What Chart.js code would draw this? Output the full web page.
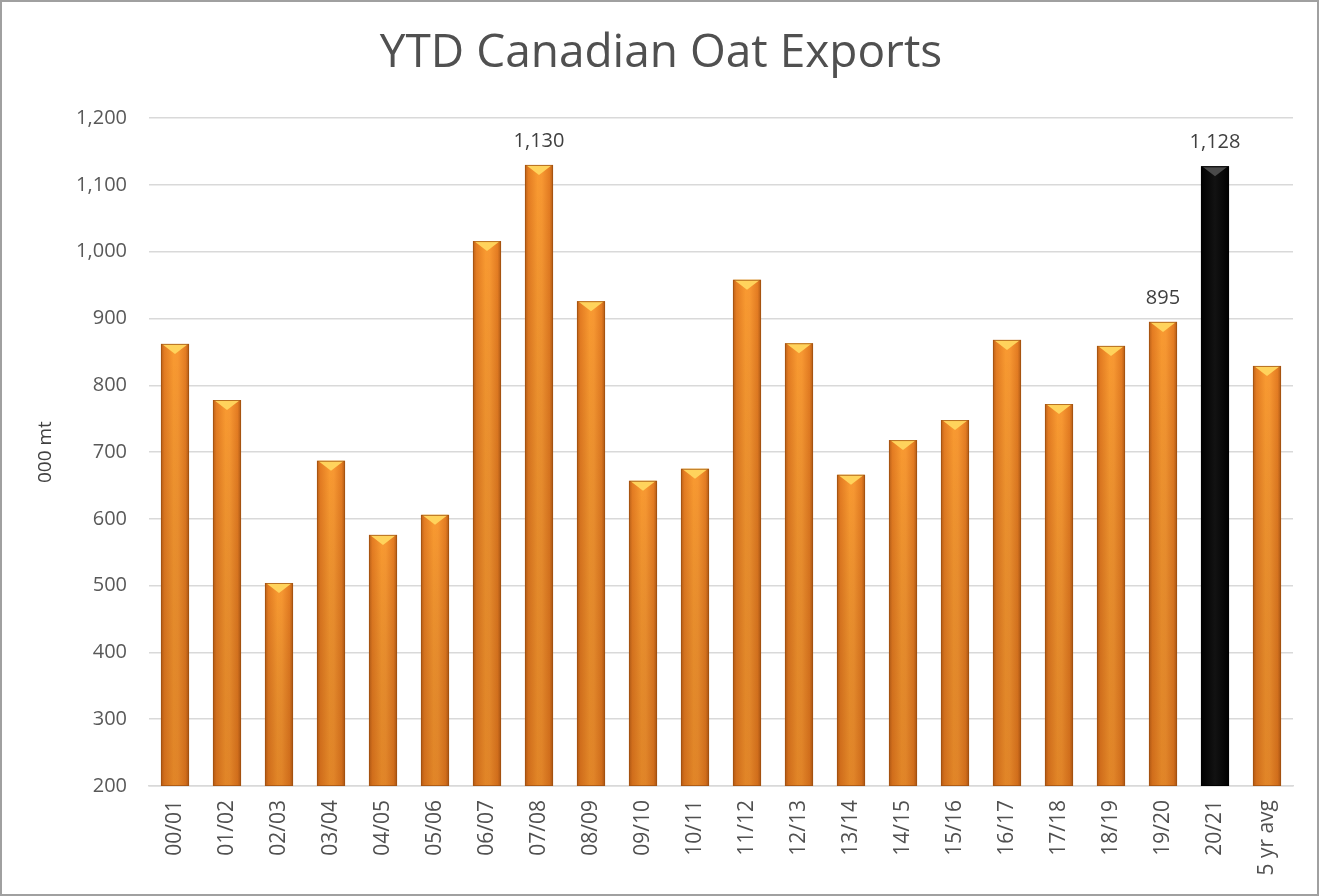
<!DOCTYPE html>
<html>
<head>
<meta charset="utf-8">
<script src="https://cdn.jsdelivr.net/npm/chart.js@4.4.1/dist/chart.umd.min.js"></script>
<style>
html,body{margin:0;padding:0;background:#fff;overflow:hidden;}
#wrap{position:absolute;left:0;top:0;width:1319px;height:896px;}
#frame{position:absolute;left:0;top:0;width:1319px;height:896px;box-sizing:border-box;border:2px solid #a0a0a0;pointer-events:none;}
</style>
</head>
<body>
<div id="wrap"><canvas id="c"></canvas></div>
<div id="frame"></div>
<script>
const categories = ["00/01","01/02","02/03","03/04","04/05","05/06","06/07","07/08","08/09","09/10","10/11","11/12","12/13","13/14","14/15","15/16","16/17","17/18","18/19","19/20","20/21","5 yr avg"];
const exportsValues = [862, 778, 504, 687, 576, 606, 1016, 1130, 926, 657, 675, 958, 863, 666, 718, 748, 868, 772, 859, 895, 1128, 829];
const labelledValues = ["", "", "", "", "", "", "", "1,130", "", "", "", "", "", "", "", "", "", "", "", "895", "1,128", ""];
const highlightCategory = "20/21";
const yTicks = [200, 300, 400, 500, 600, 700, 800, 900, 1000, 1100, 1200];

const FONT = '"Open Sans", "Liberation Sans", sans-serif';

const barStyle = {
  id: 'barStyle',
  afterDatasetsDraw(chart) {
    const ctx = chart.ctx;
    const area = chart.chartArea;
    const meta = chart.getDatasetMeta(0);
    meta.data.forEach((bar, i) => {
      const p = bar.getProps(['x','y','base','width'], true);
      const l = p.x - p.width/2, r = p.x + p.width/2, t = p.y, b = Math.min(p.base, area.bottom);
      const dark = categories[i] === highlightCategory;
      const g = ctx.createLinearGradient(l, 0, r, 0);
      if (dark) {
        g.addColorStop(0, '#000'); g.addColorStop(0.5, '#121212'); g.addColorStop(1, '#000');
      } else {
        g.addColorStop(0, '#b95f18'); g.addColorStop(0.12, '#e47c22'); g.addColorStop(0.45, '#f99a31');
        g.addColorStop(0.6, '#f89832'); g.addColorStop(0.88, '#e47c22'); g.addColorStop(1, '#b05a16');
      }
      ctx.save();
      ctx.fillStyle = g;
      ctx.fillRect(l, t, r - l, b - t);
      const gv = ctx.createLinearGradient(0, t, 0, b);
      gv.addColorStop(0, 'rgba(0,0,0,0)');
      gv.addColorStop(1, dark ? 'rgba(0,0,0,0)' : 'rgba(130,50,0,0.2)');
      ctx.fillStyle = gv;
      ctx.fillRect(l, t, r - l, b - t);
      ctx.beginPath();
      ctx.moveTo(l + 1, t); ctx.lineTo(r - 1, t); ctx.lineTo(p.x, t + 10); ctx.closePath();
      ctx.fillStyle = dark ? '#4a4a4a' : '#ffd35c';
      ctx.fill();
      ctx.strokeStyle = dark ? '#000' : 'rgba(160,80,15,0.75)';
      ctx.lineWidth = 1;
      ctx.strokeRect(l + 0.5, t + 0.5, r - l - 1, b - t - 1);
      ctx.restore();
      if (labelledValues[i]) {
        ctx.save();
        ctx.font = '20px ' + FONT;
        ctx.fillStyle = '#404040';
        ctx.textAlign = 'center';
        ctx.textBaseline = 'alphabetic';
        ctx.fillText(labelledValues[i], p.x, t - 18);
        ctx.restore();
      }
    });
  }
};

new Chart(document.getElementById('c'), {
  type: 'bar',
  data: {
    labels: categories,
    datasets: [{
      data: exportsValues,
      backgroundColor: 'rgba(0,0,0,0)',
      borderWidth: 0,
      barPercentage: 0.54,
      categoryPercentage: 1.0
    }]
  },
  options: {
    responsive: true,
    maintainAspectRatio: false,
    animation: false,
    devicePixelRatio: 1,
    layout: { padding: { left: 29, right: 26, top: 0, bottom: 0 } },
    plugins: {
      legend: { display: false },
      tooltip: { enabled: false },
      title: {
        display: true,
        text: 'YTD Canadian Oat Exports',
        color: '#505050',
        font: { family: FONT, size: 46, weight: 'normal', lineHeight: 1.2 },
        padding: { top: 26, bottom: 37 }
      }
    },
    scales: {
      x: {
        afterFit(axis) { axis.height = 110; },
        grid: { display: false, drawTicks: false },
        border: { display: true, color: '#d9d9d9', width: 1.5 },
        ticks: {
          color: '#505050',
          font: { family: FONT, size: 21 },
          maxRotation: 90, minRotation: 90,
          padding: 14,
          autoSkip: false
        }
      },
      y: {
        min: 200, max: 1200,
        afterFit(axis) { axis.width = 120; },
        afterBuildTicks(axis) { axis.ticks = yTicks.map(v => ({ value: v })); },
        grid: { color: '#d9d9d9', lineWidth: 1.5, drawTicks: false },
        border: { display: false },
        ticks: {
          color: '#595959',
          font: { family: FONT, size: 20 },
          padding: 22,
          callback: v => v.toLocaleString('en-US')
        },
        title: {
          display: true,
          text: '000 mt',
          color: '#404040',
          font: { family: FONT, size: 19 },
          padding: { top: 5, bottom: 0 }
        }
      }
    }
  },
  plugins: [barStyle]
});
</script>
</body>
</html>
